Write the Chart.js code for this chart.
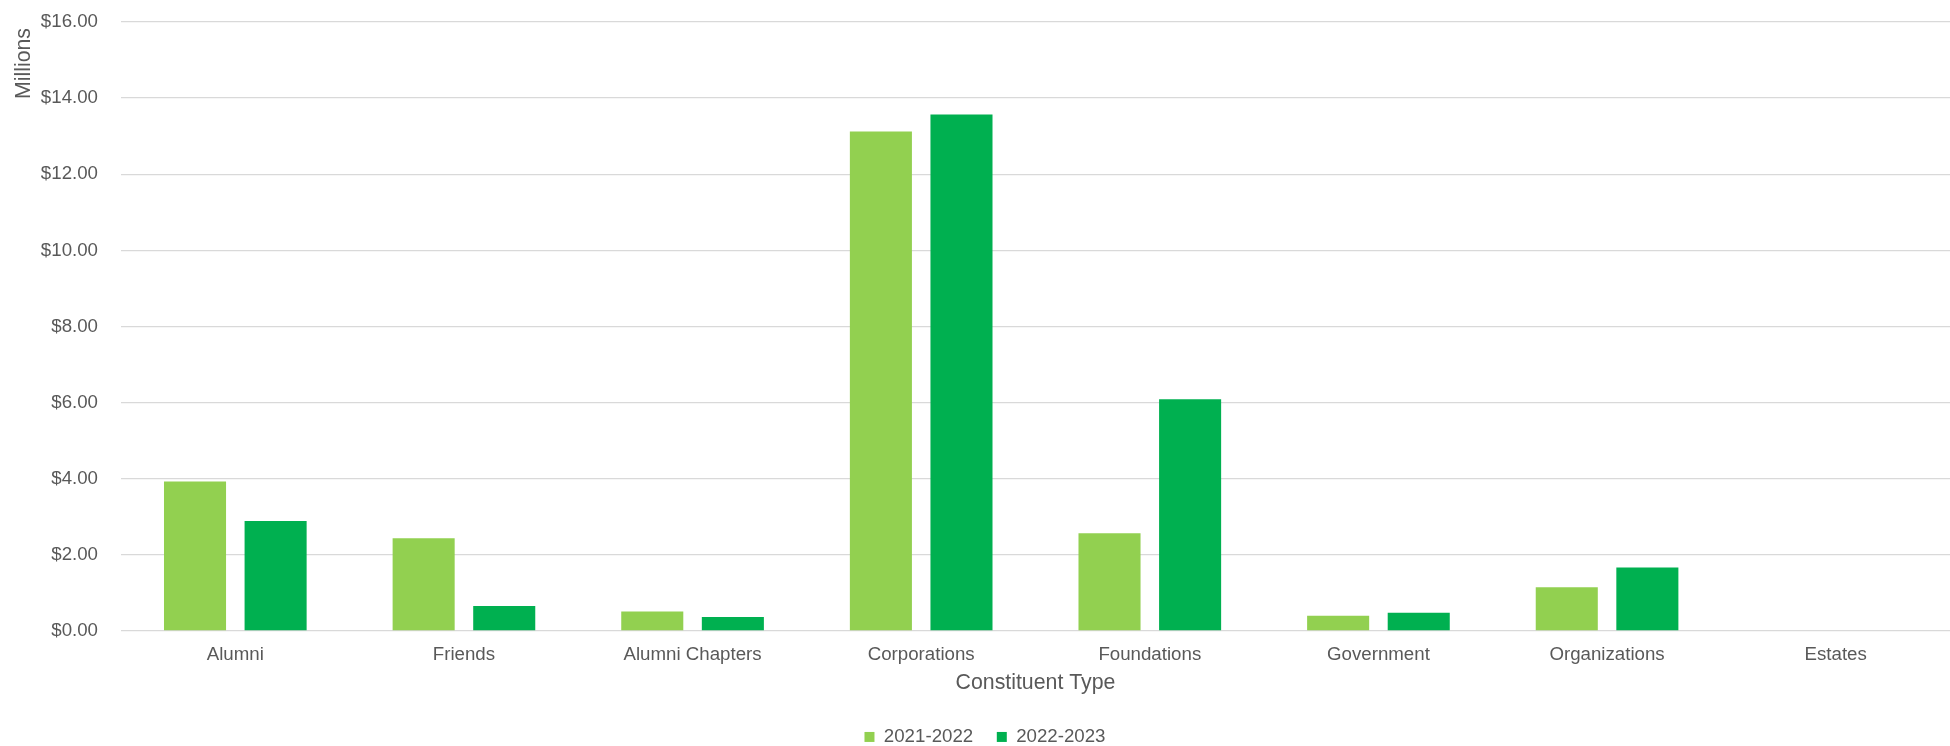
<!DOCTYPE html>
<html>
<head>
<meta charset="utf-8">
<script src="https://cdn.jsdelivr.net/npm/chart.js@4.4.1/dist/chart.umd.min.js"></script>
<style>
  html, body { margin: 0; padding: 0; background: #ffffff; }
  #wrap { width: 1950px; height: 746px; position: relative; }
</style>
</head>
<body>
<div id="wrap"><canvas id="c"></canvas></div>
<script>
const categories = ["Alumni", "Friends", "Alumni Chapters", "Corporations", "Foundations", "Government", "Organizations", "Estates"];
const series2122 = [3.93, 2.44, 0.51, 13.12, 2.57, 0.40, 1.15, 0.02];
const series2223 = [2.89, 0.66, 0.37, 13.57, 6.09, 0.48, 1.67, 0.00];
const seriesNames = ["2021-2022", "2022-2023"];
const yTicks = [0, 2, 4, 6, 8, 10, 12, 14, 16];

const FONT = "'Liberation Sans', Arial, sans-serif";
const TXT = "#595959";

// nudge the rotated y-axis title slightly below the top of the plot, as in the reference
const titleNudge = {
  id: 'titleNudge',
  beforeDraw(chart) {
    const y = chart.scales.y;
    if (y) y.top = chart.chartArea.top + 6;
  }
};

new Chart(document.getElementById('c'), {
  type: 'bar',
  data: {
    labels: categories,
    datasets: [
      { label: seriesNames[0], data: series2122, backgroundColor: '#92D050' },
      { label: seriesNames[1], data: series2223, backgroundColor: '#00B050' }
    ]
  },
  plugins: [titleNudge],
  options: {
    responsive: true,
    maintainAspectRatio: false,
    animation: false,
    devicePixelRatio: 1,
    layout: { padding: { top: 22, right: 0, bottom: 0, left: 20 } },
    datasets: { bar: { categoryPercentage: 0.705, barPercentage: 0.77 } },
    plugins: {
      tooltip: { enabled: false },
      legend: {
        position: 'bottom',
        maxHeight: 42,
        labels: {
          color: TXT,
          font: { family: FONT, size: 18.7 },
          boxWidth: 10,
          boxHeight: 10,
          padding: 23.6
        }
      }
    },
    scales: {
      x: {
        grid: { display: false, drawTicks: false },
        border: { display: false },
        ticks: { color: TXT, font: { family: FONT, size: 18.7 }, padding: 13, maxRotation: 0, autoSkip: false },
        title: {
          display: true, text: 'Constituent Type', color: TXT,
          font: { family: FONT, size: 21.3 },
          padding: { top: -9.2, bottom: 8.2 }
        }
      },
      y: {
        min: yTicks[0],
        max: yTicks[yTicks.length - 1],
        afterBuildTicks: (axis) => { axis.ticks = yTicks.map(v => ({ value: v })); },
        afterFit: (axis) => { axis.width = 101; axis.paddingTop = 0; axis.paddingBottom = 0; },
        grid: { color: '#D9D9D9', lineWidth: 1.3, drawTicks: false },
        border: { display: false },
        ticks: {
          color: TXT, font: { family: FONT, size: 18.7 }, padding: 23,
          callback: (v) => '$' + Number(v).toFixed(2)
        },
        title: {
          display: true, text: 'Millions', color: TXT, align: 'end',
          font: { family: FONT, size: 21.3 },
          padding: { top: -8.8, bottom: 0 }
        }
      }
    }
  }
});
</script>
</body>
</html>
